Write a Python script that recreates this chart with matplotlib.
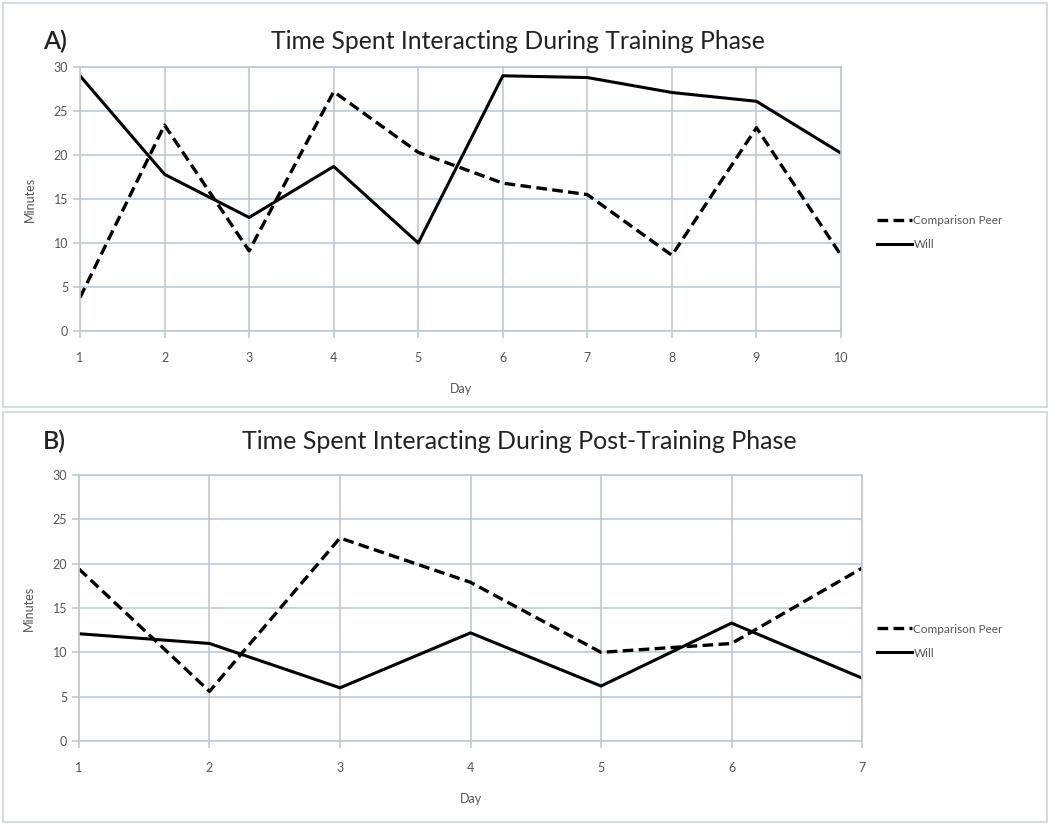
import numpy as np
import matplotlib
matplotlib.use("Agg")
import matplotlib.pyplot as plt
from matplotlib.patches import Rectangle

plt.rcParams['font.family'] = ['Lato', 'DejaVu Sans']

# panel A - training phase
days_a = [1, 2, 3, 4, 5, 6, 7, 8, 9, 10]
peer_a = [3.8, 23.4, 9.1, 27.2, 20.3, 16.8, 15.5, 8.6, 23.1, 8.6]
will_a = [29.0, 17.8, 12.9, 18.7, 10.0, 29.0, 28.8, 27.1, 26.1, 20.2]

# panel B - post-training phase
days_b = [1, 2, 3, 4, 5, 6, 7]
peer_b = [19.4, 5.6, 22.9, 17.9, 10.0, 11.0, 19.5]
will_b = [12.1, 11.0, 6.0, 12.2, 6.2, 13.3, 7.1]

yticks = [0, 5, 10, 15, 20, 25, 30]
grid_col = '#bccbd3'
text_col = '#555555'

fig = plt.figure(figsize=(10.5, 8.25), dpi=100)

# outer chart frames
W, H = 1050, 825
for (x0, y0, x1, y1) in [(3, 3, 1047, 407), (3, 412, 1047, 822)]:
    fig.patches.append(Rectangle((x0 / W, 1 - y1 / H), (x1 - x0) / W, (y1 - y0) / H,
                                 transform=fig.transFigure, fill=False,
                                 edgecolor='#d3dde2', linewidth=1.5))


def panel(rect, days, peer, will, letter, title, title_x, title_size, legend_y, label_y):
    ax = fig.add_axes(rect)
    ax.plot(days, peer, color='black', linestyle=(0, (3.2, 1.6)), linewidth=2.4,
            label='Comparison Peer', solid_joinstyle='miter')
    ax.plot(days, will, color='black', linewidth=2.2, label='Will')
    ax.set_xlim(days[0], days[-1])
    ax.set_ylim(0, 30)
    ax.set_xticks(days)
    ax.set_yticks(yticks)
    ax.grid(True, color=grid_col, linewidth=1.2)
    ax.set_axisbelow(True)
    for s in ax.spines.values():
        s.set_color(grid_col)
        s.set_linewidth(1.2)
    ax.tick_params(axis='both', colors=grid_col, labelcolor=text_col, labelsize=9,
                   length=5, width=1.2)
    ax.tick_params(axis='x', pad=10)
    ax.set_ylabel('Minutes', color=text_col, fontsize=9, labelpad=13)
    ax.set_xlabel('Day', color=text_col, fontsize=9, labelpad=14)
    fig.text(title_x, label_y, title, fontsize=title_size, color='#222222',
             ha='center', va='center')
    fig.text(0.041, label_y, letter, fontsize=18, color='#222222', ha='left',
             va='center', fontweight='semibold')
    leg = ax.legend(loc='center left', bbox_to_anchor=(0.825, legend_y),
                    bbox_transform=fig.transFigure, frameon=False, fontsize=8.5,
                    handlelength=3.0, handletextpad=0.1, labelspacing=1.1)
    for t in leg.get_texts():
        t.set_color(text_col)
    return ax


panel([0.0762, 0.5988, 0.7248, 0.32], days_a, peer_a, will_a, 'A)',
      'Time Spent Interacting During Training Phase', 0.493, 17.8, 0.718, 0.950)
panel([0.0752, 0.1018, 0.7458, 0.3224], days_b, peer_b, will_b, 'B)',
      'Time Spent Interacting During Post-Training Phase', 0.495, 18, 0.223, 0.465)

fig.savefig('out.png', dpi=100, facecolor='white')
